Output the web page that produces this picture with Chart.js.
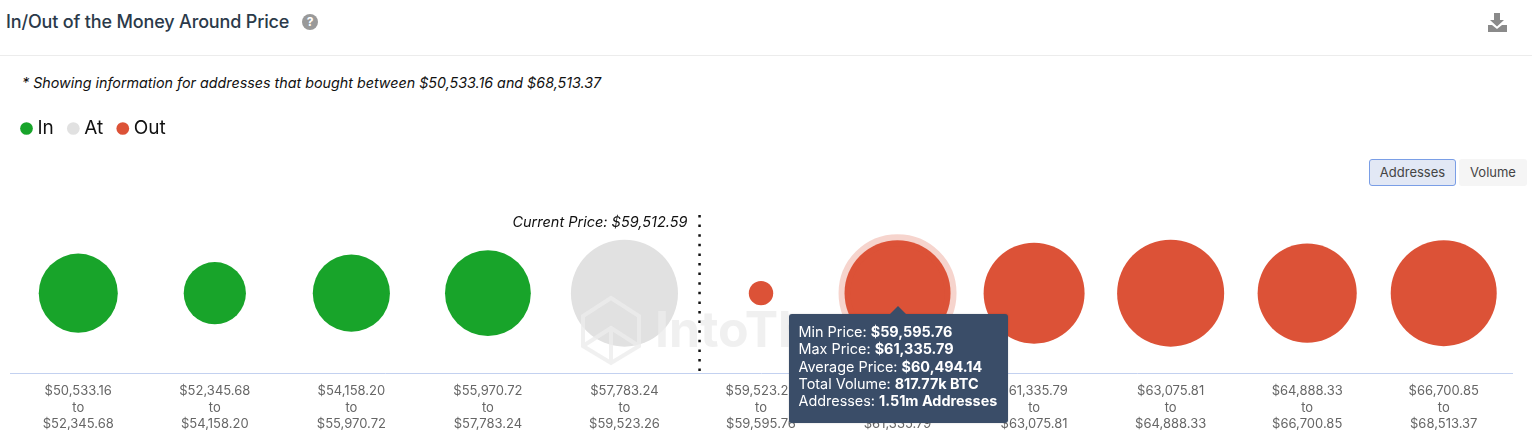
<!DOCTYPE html>
<html>
<head>
<meta charset="utf-8">
<title>In/Out of the Money Around Price</title>
<script src="https://cdn.jsdelivr.net/npm/chart.js@4/dist/chart.umd.min.js"></script>
<style>
    html, body { margin: 0; padding: 0; background: #fff; }
    body { width: 1532px; height: 448px; position: relative; overflow: hidden; font-family: Inter, sans-serif; }
    .title { position: absolute; left: 6px; top: 11px; font-size: 18px; font-weight: 500; color: #2b3a4a; letter-spacing: -0.16px; white-space: nowrap; }
    .help { position: absolute; left: 302px; top: 14px; width: 16px; height: 16px; border-radius: 50%; background: #999; color: #fff; font-size: 12px; font-weight: 700; line-height: 16px; text-align: center; }
    .download { position: absolute; left: 1487px; top: 12px; }
    .divider { position: absolute; left: 0; right: 0; top: 55px; border-top: 1px solid #ececec; }
    .note { position: absolute; left: 22px; top: 74px; font-size: 14.3px; font-style: italic; color: #111; white-space: nowrap; }
    .btn { position: absolute; top: 159px; height: 27px; line-height: 27px; box-sizing: border-box; border-radius: 3px; font-size: 13px; color: #444; text-align: center; }
    .btn.on { left: 1369px; width: 87px; background: #e2e8f5; border: 1px solid #7a9ee6; line-height: 25px; }
    .btn.off { left: 1459px; width: 68px; background: #f5f5f5; }
    #chart-wrap { position: absolute; left: 0; top: 101px; width: 1532px; height: 347px; }
    #price-tooltip { position: absolute; width: 219px; height: 109px; box-sizing: border-box; padding: 9px 10px; background: #3a4d68; color: #fff; border-radius: 3px; font-size: 14.4px; line-height: 17.3px; white-space: nowrap; box-shadow: 0 0 2px rgba(0,0,0,.2); }
    #price-tooltip:before { content: ""; position: absolute; left: 101px; top: -8px; border-left: 8px solid transparent; border-right: 8px solid transparent; border-bottom: 8px solid #3a4d68; }
    #price-tooltip b { font-weight: 700; }
</style>
</head>
<body>
<div class="title">In/Out of the Money Around Price</div>
<div class="help">?</div>
<svg class="download" width="21" height="21" viewBox="0 0 21 21">
    <path d="M7 1h6v7h4l-7 6.5L3 8h4z" fill="#8a8a8a"/>
    <path d="M1 13h4l5 4 5-4h5v7H1z" fill="#8a8a8a"/>
</svg>
<div class="divider"></div>
<div class="note">* Showing information for addresses that bought between $50,533.16 and $68,513.37</div>
<div class="btn on">Addresses</div>
<div class="btn off">Volume</div>
<div id="chart-wrap"><canvas id="money-chart"></canvas></div>

<script>
// Price bins
const lowPrices = ['$50,533.16', '$52,345.68', '$54,158.20', '$55,970.72', '$57,783.24', '$59,523.26',
    '$59,595.76', '$61,335.79', '$63,075.81', '$64,888.33', '$66,700.85'];
const highPrices = ['$52,345.68', '$54,158.20', '$55,970.72', '$57,783.24', '$59,523.26', '$59,595.76',
    '$61,335.79', '$63,075.81', '$64,888.33', '$66,700.85', '$68,513.37'];

// Addresses per bin, in millions
const inAddresses = [0.84, 0.52, 0.80, 0.99];
const atAddresses = [1.54];
const outAddresses = [0.08, 1.51, 1.37, 1.54, 1.32, 1.51];

const currentPriceLabel = 'Current Price: $59,512.59';
const currentPriceIndex = 4.55; // where the price sits on the bin axis

// Hovered bin shown in the tooltip
const tooltipAverage = '$60,494.14';
const tooltipVolume = '817.77k BTC';
const tooltipAddresses = '1.51m Addresses';

const MAX_RADIUS = 53;
const MAX_ADDRESSES = 1.51;

function bubbleRadius(value) {
    return MAX_RADIUS * Math.sqrt(value / MAX_ADDRESSES);
}

// Build points for a run of bins starting at firstBin
function buildPoints(values, firstBin) {
    return values.map((value, i) => ({
        x: lowPrices[firstBin + i],
        y: 0.5,
        r: bubbleRadius(value)
    }));
}

// Tooltip is a plain div, the canvas can't mix bold and regular in one line
function renderTooltip(context) {
    const wrap = document.getElementById('chart-wrap');
    let box = document.getElementById('price-tooltip');
    if (!box) {
        box = document.createElement('div');
        box.id = 'price-tooltip';
        wrap.appendChild(box);
    }
    const point = context.tooltip.dataPoints && context.tooltip.dataPoints[0];
    if (!point) {
        box.style.display = 'none';
        return;
    }
    const bin = lowPrices.indexOf(point.raw.x);
    box.innerHTML = `Min Price: <b>${lowPrices[bin]}</b><br>Max Price: <b>${highPrices[bin]}</b><br>` +
        `Average Price: <b>${tooltipAverage}</b><br>Total Volume: <b>${tooltipVolume}</b><br>` +
        `Addresses: <b>${tooltipAddresses}</b>`;
    box.style.display = 'block';
    box.style.left = (context.tooltip.caretX - 109) + 'px';
    box.style.top = (context.tooltip.caretY + 21) + 'px';
}

// Dotted current price marker and its label
const currentPricePlugin = {
    id: 'currentPrice',
    afterDatasetsDraw(chart) {
        const { ctx, chartArea, scales } = chart;
        const x = scales.x.getPixelForValue(currentPriceIndex);
        ctx.save();
        ctx.beginPath();
        ctx.setLineDash([2.5, 7.1]);
        ctx.lineWidth = 2.5;
        ctx.strokeStyle = '#111';
        ctx.moveTo(x, chartArea.top + 2);
        ctx.lineTo(x, chartArea.bottom);
        ctx.stroke();
        ctx.setLineDash([]);
        ctx.fillStyle = '#111';
        ctx.font = 'italic 14.5px Inter, sans-serif';
        ctx.textAlign = 'right';
        ctx.textBaseline = 'middle';
        ctx.fillText(currentPriceLabel, x - 12, chartArea.top + 10);
        ctx.restore();
    }
};

// Faint logo and wordmark behind the marks
const watermarkPlugin = {
    id: 'watermark',
    afterDatasetsDraw(chart) {
        const { ctx, chartArea } = chart;
        const cx = chartArea.left + 601;
        const cy = chartArea.top + 117;
        ctx.save();
        ctx.strokeStyle = 'rgba(236,236,236,0.8)';
        ctx.fillStyle = 'rgba(236,236,236,0.8)';
        ctx.lineWidth = 4;
        ctx.beginPath();
        ctx.moveTo(cx, cy - 32);
        ctx.lineTo(cx + 28, cy - 14);
        ctx.lineTo(cx + 28, cy + 16);
        ctx.lineTo(cx, cy + 33);
        ctx.lineTo(cx - 28, cy + 16);
        ctx.lineTo(cx - 28, cy - 14);
        ctx.closePath();
        ctx.moveTo(cx - 28, cy + 16);
        ctx.lineTo(cx, cy - 2);
        ctx.lineTo(cx + 28, cy + 16);
        ctx.moveTo(cx, cy - 2);
        ctx.lineTo(cx, cy + 33);
        ctx.stroke();
        ctx.font = 'bold 50px Inter, sans-serif';
        ctx.textAlign = 'left';
        ctx.textBaseline = 'middle';
        ctx.fillText('IntoTh', chartArea.left + 645, cy + 2);
        ctx.restore();
    }
};

// Legend sits at the top of the canvas, keep the plot area below the buttons
const legendSpacerPlugin = {
    id: 'legendSpacer',
    beforeInit(chart) {
        const fit = chart.legend.fit;
        chart.legend.fit = function() {
            fit.call(this);
            this.height = 112;
        };
    },
    afterLayout(chart) {
        chart.legend.left = 7; // legend starts left of the plot area
    }
};

function initChart() {
    const ctx = document.getElementById('money-chart').getContext('2d');
    const chart = new Chart(ctx, {
        type: 'bubble',
        data: {
            labels: lowPrices,
            datasets: [
                { label: 'In', data: buildPoints(inAddresses, 0), backgroundColor: '#18a42a', hoverBackgroundColor: '#18a42a', borderWidth: 0 },
                { label: 'At', data: buildPoints(atAddresses, 4), backgroundColor: '#e1e1e1', hoverBackgroundColor: '#e1e1e1', borderWidth: 0 },
                {
                    label: 'Out',
                    data: buildPoints(outAddresses, 5),
                    backgroundColor: '#dc5237',
                    hoverBackgroundColor: '#dc5237',
                    borderWidth: 0,
                    hoverBorderColor: 'rgba(220,82,55,0.25)',
                    hoverBorderWidth: 12,
                    hoverRadius: 0
                }
            ]
        },
        options: {
            responsive: true,
            maintainAspectRatio: false,
            animation: false,
            events: [],
            layout: { autoPadding: false, padding: { left: 10, right: 20, top: 0, bottom: 14 } },
            plugins: {
                legend: {
                    position: 'top',
                    align: 'start',
                    labels: {
                        usePointStyle: true,
                        pointStyle: 'circle',
                        boxWidth: 3,
                        boxHeight: 9,
                        padding: 18,
                        color: '#111',
                        font: { family: 'Inter, sans-serif', size: 19 }
                    }
                },
                tooltip: { enabled: false, external: renderTooltip }
            },
            scales: {
                x: {
                    type: 'category',
                    offset: true,
                    grid: { display: false },
                    border: { color: '#c3d1f0' },
                    ticks: {
                        autoSkip: false,
                        maxRotation: 0,
                        padding: 1,
                        color: '#666',
                        font: { family: 'Inter, sans-serif', size: 13, lineHeight: 1.3 },
                        callback: function(value, index) {
                            return [lowPrices[index], 'to', highPrices[index]];
                        }
                    }
                },
                y: { display: false, min: 0, max: 1 }
            }
        },
        plugins: [legendSpacerPlugin, currentPricePlugin, watermarkPlugin]
    });

    // Pin the second "Out" bubble as hovered
    const active = [{ datasetIndex: 2, index: 1 }];
    chart.setActiveElements(active);
    chart.tooltip.setActiveElements(active, { x: 0, y: 0 });
    chart.update();
}

initChart();
</script>
</body>
</html>
